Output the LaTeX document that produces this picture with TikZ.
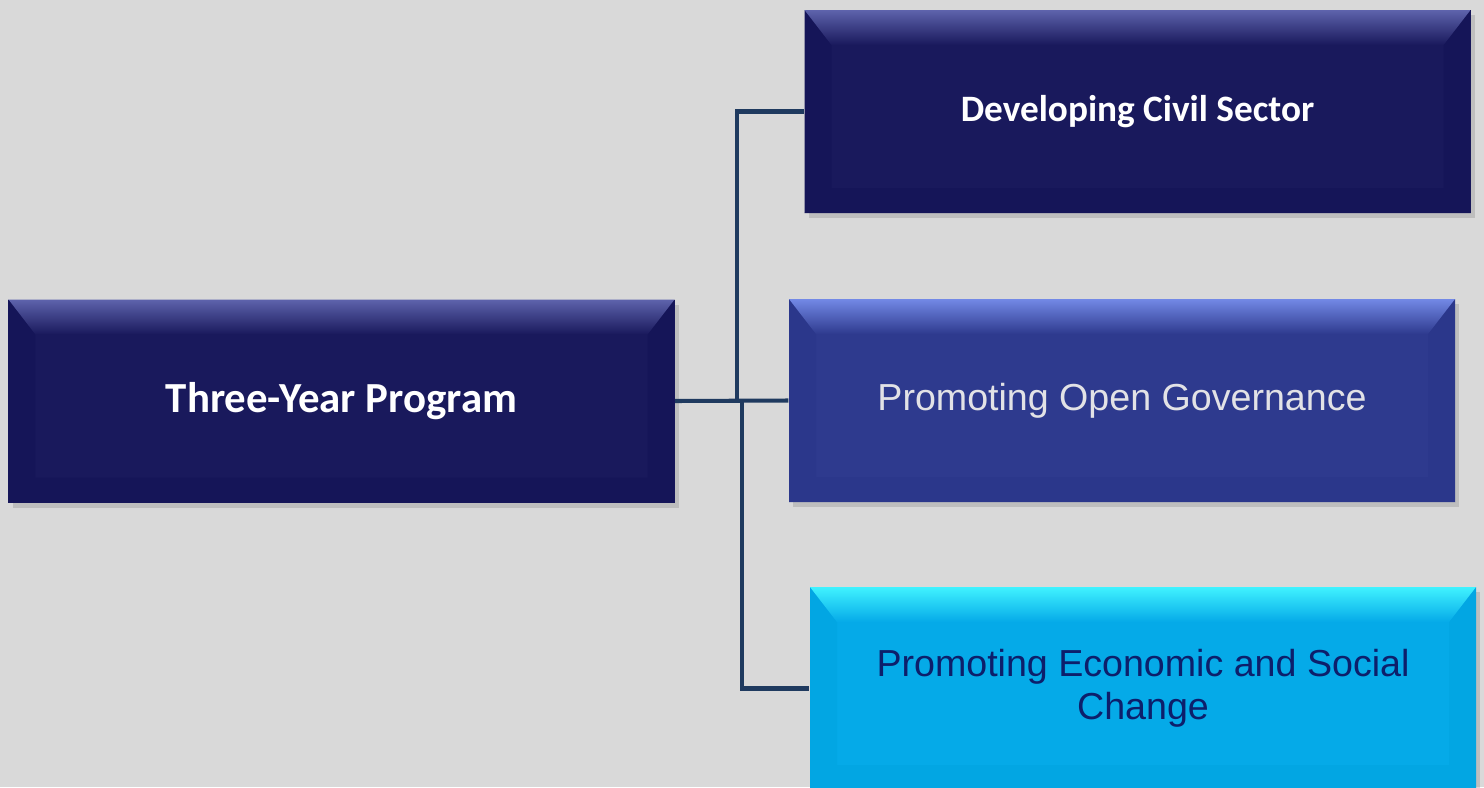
\documentclass[tikz,border=0pt]{standalone}
\usepackage{fontspec}
\usepackage{xcolor}
\usepackage{tikz}
\usetikzlibrary{calc}
\usetikzlibrary{shadows}
\newfontfamily\calibri{Carlito}
\newfontfamily\arial{Liberation Sans}

\definecolor{bgray}{HTML}{D9D9D9}
\definecolor{navy}{HTML}{19195C}
\definecolor{navytop}{HTML}{5E63AC}
\definecolor{navylow}{HTML}{151558}
\definecolor{royal}{HTML}{2E3A8E}
\definecolor{royaltop}{HTML}{7389E6}
\definecolor{royallow}{HTML}{2B378B}
\definecolor{sky}{HTML}{05AAE8}
\definecolor{skytop}{HTML}{40F2FF}
\definecolor{skylow}{HTML}{02A6E3}
\definecolor{linkblue}{HTML}{1F3A5F}
\definecolor{softwhite}{HTML}{E2E2E6}
\definecolor{inknavy}{HTML}{0D1F6B}

\tikzset{
    bevel/.style n args={3}{
        fill=#1, minimum width=6.66cm, minimum height=2.03cm,
        drop shadow={opacity=0.3, shadow xshift=1.2pt, shadow yshift=-1.5pt},
        path picture={
            \coordinate (nw) at (path picture bounding box.north west);
            \coordinate (ne) at (path picture bounding box.north east);
            \coordinate (sw) at (path picture bounding box.south west);
            \coordinate (se) at (path picture bounding box.south east);
            \fill[#3] (nw) -- ($(nw)+(0.27,-0.35)$) -- ($(sw)+(0.27,0.25)$) -- (sw) -- cycle;
            \fill[#3] (ne) -- ($(ne)+(-0.27,-0.35)$) -- ($(se)+(-0.27,0.25)$) -- (se) -- cycle;
            \fill[#3] (sw) -- ($(sw)+(0.27,0.25)$) -- ($(se)+(-0.27,0.25)$) -- (se) -- cycle;
            \shade[top color=#2, bottom color=#1] (nw) -- (ne) -- ($(ne)+(-0.27,-0.35)$) -- ($(nw)+(0.27,-0.35)$) -- cycle;
        }
    },
    link/.style={draw=linkblue, line width=1.15pt}
}

\begin{document}
\begin{tikzpicture}
        %BACKGROUND
        \fill[bgray] (0,0) rectangle (14.84,7.87);
        \useasboundingbox (0,0) rectangle (14.84,7.87);

        %BOXES
        \node[bevel={navy}{navytop}{navylow}, text=white, font=\calibri\bfseries\fontsize{12.2pt}{14pt}\selectfont] (program) at (3.415,3.86) {Three-Year Program};
        \node[bevel={navy}{navytop}{navylow}, text=white, font=\calibri\bfseries\fontsize{10.6pt}{13pt}\selectfont] (civil) at (11.375,6.755) {Developing Civil Sector};
        \node[bevel={royal}{royaltop}{royallow}, text=softwhite, font=\arial\fontsize{10.7pt}{12.2pt}\selectfont] (open) at (11.22,3.865) {Promoting Open Governance};
        \node[bevel={sky}{skytop}{skylow}, text=inknavy, align=center, font=\arial\fontsize{10.7pt}{12.2pt}\selectfont] (econ) at (11.43,0.985) {Promoting Economic and Social\\Change};

        %LINKS
        \draw[link] (program.east) -- (open.west);
        \draw[link] (program.east) -- ++(0.62,0) |- (civil.west);
        \draw[link] (program.east) -- ++(0.67,0) |- (econ.west);
    \end{tikzpicture}
\end{document}
